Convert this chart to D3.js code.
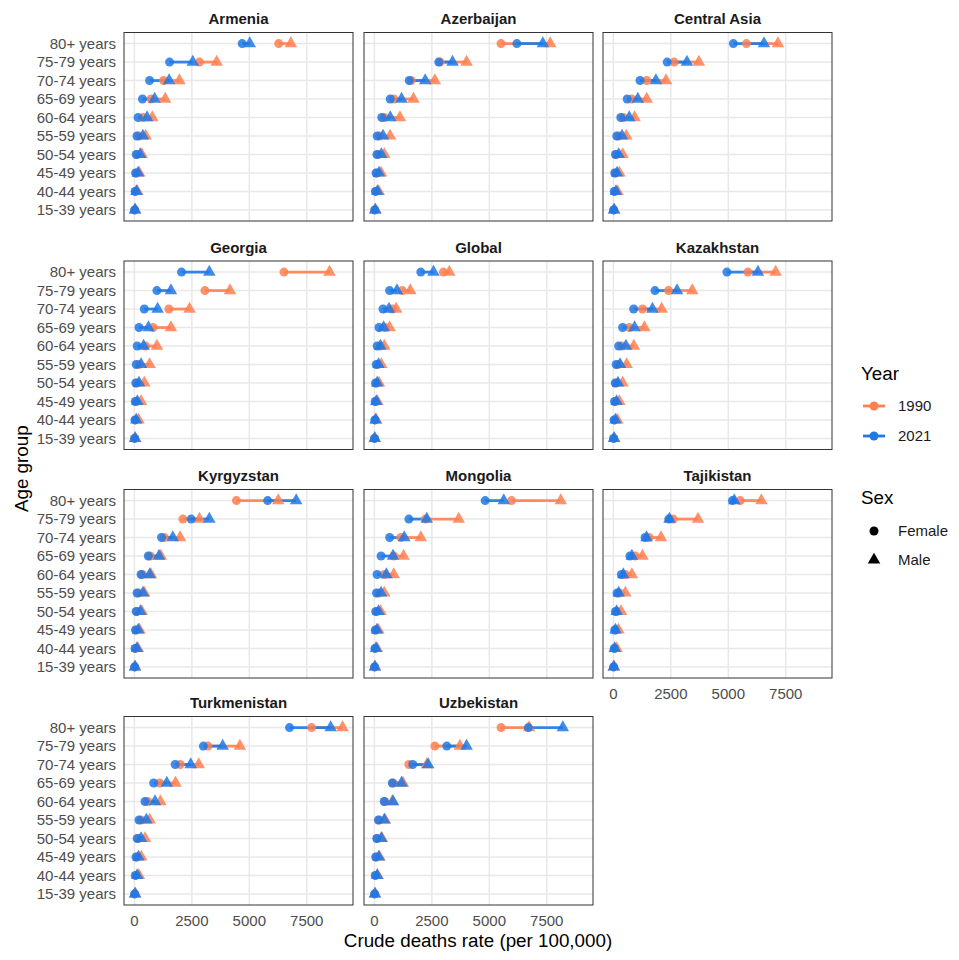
<!DOCTYPE html>
<html>
<head>
<meta charset="utf-8">
<script src="https://cdn.jsdelivr.net/npm/d3@7"></script>
<style>
  body { margin: 0; background: #fff; }
  text { font-family: "Liberation Sans", Arial, sans-serif; }
</style>
</head>
<body>
<svg id="chart" width="959" height="960"></svg>
<script>
// facets, in panel order
var countries = ["Armenia", "Azerbaijan", "Central Asia", "Georgia", "Global", "Kazakhstan",
  "Kyrgyzstan", "Mongolia", "Tajikistan", "Turkmenistan", "Uzbekistan"];
// age groups, top to bottom
var ageGroups = ["80+ years", "75-79 years", "70-74 years", "65-69 years", "60-64 years",
  "55-59 years", "50-54 years", "45-49 years", "40-44 years", "15-39 years"];
var xTicks = [0, 2500, 5000, 7500];
var years = ["1990", "2021"];
var sexes = ["Female", "Male"];

// crude death rate per 100,000; one row per country, values in ageGroups order
var female1990 = [
  [6280, 2830, 1270, 720, 375, 200, 130, 90, 50, 15],
  [5510, 2860, 1600, 840, 430, 230, 170, 110, 70, 20],
  [5790, 2640, 1450, 790, 430, 230, 130, 90, 60, 15],
  [6510, 3070, 1500, 810, 480, 190, 110, 80, 50, 15],
  [3000, 1210, 780, 460, 260, 150, 90, 60, 35, 8],
  [5850, 2400, 1270, 690, 375, 200, 130, 90, 60, 15],
  [4440, 2110, 1300, 690, 345, 175, 110, 70, 45, 15],
  [5970, 2220, 1150, 840, 430, 190, 110, 70, 45, 12],
  [5520, 2600, 1550, 950, 520, 260, 160, 110, 70, 15],
  [7710, 3200, 1990, 1100, 580, 290, 170, 110, 70, 20],
  [5510, 2630, 1500, 810, 440, 200, 130, 80, 50, 12]
];
var male1990 = [
  [6810, 3580, 1960, 1340, 780, 490, 320, 210, 130, 40],
  [7650, 4010, 2630, 1700, 1110, 680, 430, 290, 190, 50],
  [7160, 3720, 2290, 1450, 920, 560, 400, 260, 180, 40],
  [8490, 4160, 2400, 1590, 980, 660, 430, 290, 180, 40],
  [3260, 1560, 950, 660, 430, 300, 200, 130, 80, 18],
  [7060, 3430, 2100, 1350, 890, 575, 400, 260, 170, 40],
  [6260, 2830, 1990, 1150, 720, 430, 320, 220, 150, 35],
  [8110, 3670, 2020, 1270, 840, 430, 270, 170, 110, 30],
  [6440, 3680, 2070, 1265, 805, 520, 330, 220, 140, 30],
  [9060, 4590, 2800, 1790, 1130, 665, 460, 300, 200, 40],
  [6730, 3720, 2280, 1240, 780, 460, 330, 220, 140, 28]
];
var female2021 = [
  [4690, 1530, 660, 350, 160, 110, 80, 50, 30, 10],
  [6200, 2800, 1515, 690, 320, 120, 110, 70, 45, 15],
  [5220, 2340, 1160, 600, 320, 145, 90, 60, 40, 10],
  [2050, 980, 430, 200, 120, 80, 60, 40, 25, 10],
  [2020, 660, 375, 200, 120, 80, 50, 35, 20, 5],
  [4940, 1810, 880, 400, 230, 120, 80, 50, 30, 10],
  [5800, 2470, 1180, 605, 290, 115, 80, 50, 30, 10],
  [4820, 1500, 665, 290, 115, 90, 60, 40, 25, 8],
  [5180, 2410, 1380, 720, 345, 160, 90, 60, 35, 10],
  [6750, 3000, 1775, 840, 460, 200, 120, 70, 40, 10],
  [6700, 3150, 1670, 780, 430, 175, 100, 60, 40, 10]
];
var male2021 = [
  [5020, 2540, 1510, 880, 550, 370, 250, 160, 90, 25],
  [7330, 3400, 2210, 1180, 690, 375, 300, 200, 130, 35],
  [6550, 3200, 1850, 1060, 690, 375, 230, 160, 110, 25],
  [3260, 1590, 1010, 610, 400, 290, 200, 130, 80, 25],
  [2570, 980, 635, 400, 260, 180, 120, 80, 50, 12],
  [6290, 2770, 1700, 920, 545, 290, 200, 140, 90, 25],
  [7040, 3260, 1670, 1070, 665, 375, 260, 170, 110, 25],
  [5630, 2280, 1300, 810, 520, 290, 180, 110, 70, 20],
  [5260, 2440, 1440, 805, 430, 230, 140, 90, 55, 15],
  [8540, 3840, 2450, 1410, 895, 520, 290, 180, 120, 25],
  [8200, 4010, 2340, 1180, 810, 430, 300, 190, 120, 22]
];

var yearColor = d3.scaleOrdinal().domain(years).range(["#FF7F50", "#1E78E6"]);
var series = { "1990": [female1990, male1990], "2021": [female2021, male2021] };

// layout
var colX = [124, 364, 603], panelW = 229;
var rowY = [32.5, 261, 489.5, 716.5], panelH = 188.5;
var nCol = 3;
var dotR = 4.5;

var svg = d3.select("#chart");

var allVals = [].concat(female1990.flat(), male1990.flat(), female2021.flat(), male2021.flat());
var xMax = d3.max(allVals);
var x = d3.scaleLinear()
  .domain([-0.05 * xMax, 1.05 * xMax])
  .range([0, panelW]);
var y = d3.scalePoint()
  .domain(ageGroups)
  .range([0, panelH])
  .padding(0.6);

var tri = d3.symbol().type(d3.symbolTriangle).size(68);

countries.forEach(function(country, ci) {
  var col = ci % nCol, row = Math.floor(ci / nCol);
  var g = svg.append("g").attr("transform", "translate(" + colX[col] + "," + rowY[row] + ")");

  // grid
  g.selectAll("line.gx").data(xTicks).enter().append("line")
    .attr("x1", function(d) { return x(d); }).attr("x2", function(d) { return x(d); })
    .attr("y1", 0).attr("y2", panelH)
    .attr("stroke", "#E8E8E8").attr("stroke-width", 1.5);
  g.selectAll("line.gy").data(ageGroups).enter().append("line")
    .attr("x1", 0).attr("x2", panelW)
    .attr("y1", function(d) { return y(d); }).attr("y2", function(d) { return y(d); })
    .attr("stroke", "#E8E8E8").attr("stroke-width", 1.5);

  // one segment per age group and year, female to male
  years.forEach(function(yr) {
    var f = series[yr][0][ci], m = series[yr][1][ci];
    g.selectAll("line.seg" + yr).data(ageGroups).enter().append("line")
      .attr("x1", function(d, i) { return x(f[i]); })
      .attr("x2", function(d, i) { return x(m[i]); })
      .attr("y1", function(d) { return y(d); })
      .attr("y2", function(d) { return y(d); })
      .attr("stroke", yearColor(yr)).attr("stroke-width", 2.8)
      .attr("stroke-opacity", 0.9);
  });

  years.forEach(function(yr) {
    var f = series[yr][0][ci], m = series[yr][1][ci];
    g.selectAll("circle.p" + yr).data(ageGroups).enter().append("circle")
      .attr("cx", function(d, i) { return x(f[i]); })
      .attr("cy", function(d) { return y(d); })
      .attr("r", dotR)
      .attr("fill", yearColor(yr)).attr("fill-opacity", 0.85);
    g.selectAll("path.p" + yr).data(ageGroups).enter().append("path")
      .attr("d", tri)
      .attr("transform", function(d, i) { return "translate(" + x(m[i]) + "," + y(d) + ")"; })
      .attr("fill", yearColor(yr)).attr("fill-opacity", 0.85);
  });

  // border
  g.append("rect")
    .attr("width", panelW).attr("height", panelH)
    .attr("fill", "none").attr("stroke", "#333333").attr("stroke-width", 1);

  // strip title
  g.append("text")
    .attr("x", panelW / 2).attr("y", -8.5)
    .attr("text-anchor", "middle")
    .style("font-size", "15px").style("font-weight", "bold")
    .attr("fill", "#1a1a1a")
    .text(country);

  if (col === 0) {
    g.selectAll("text.yl").data(ageGroups).enter().append("text")
      .attr("x", -8).attr("y", function(d) { return y(d); })
      .attr("dy", "0.36em")
      .attr("text-anchor", "end")
      .style("font-size", "15px").attr("fill", "#4D4D4D")
      .text(function(d) { return d; });
  }
  if (ci + nCol >= countries.length) {
    g.selectAll("text.xl").data(xTicks).enter().append("text")
      .attr("x", function(d) { return x(d); }).attr("y", panelH + 20.5)
      .attr("text-anchor", "middle")
      .style("font-size", "15px").attr("fill", "#4D4D4D")
      .text(function(d) { return d; });
  }
});

// axis titles
svg.append("text")
  .attr("x", (colX[0] + colX[2] + panelW) / 2).attr("y", 947)
  .attr("text-anchor", "middle")
  .style("font-size", "18.8px")
  .text("Crude deaths rate (per 100,000)");
svg.append("text")
  .attr("transform", "translate(28," + (rowY[0] + rowY[3] + panelH) / 2 + ") rotate(-90)")
  .attr("text-anchor", "middle")
  .style("font-size", "18.8px")
  .text("Age group");

// legends
var lg = svg.append("g").attr("transform", "translate(861,0)");
lg.append("text").attr("x", 0).attr("y", 380).style("font-size", "18.8px").text("Year");
var yk = lg.selectAll("g.yk").data(years).enter().append("g")
  .attr("transform", function(d, i) { return "translate(0," + (406 + i * 30) + ")"; });
yk.append("line").attr("x1", 2).attr("x2", 24).attr("stroke-width", 2.8)
  .attr("stroke", function(d) { return yearColor(d); });
yk.append("circle").attr("cx", 13).attr("r", dotR)
  .attr("fill", function(d) { return yearColor(d); });
yk.append("text").attr("x", 37).attr("dy", "0.36em").style("font-size", "15px")
  .attr("fill", "#1a1a1a").text(function(d) { return d; });

lg.append("text").attr("x", 0).attr("y", 504).style("font-size", "18.8px").text("Sex");
var sk = lg.selectAll("g.sk").data(sexes).enter().append("g")
  .attr("transform", function(d, i) { return "translate(13," + (531 + i * 29) + ")"; });
sk.append("path").attr("d", function(d) {
  return d === "Female" ? d3.symbol().type(d3.symbolCircle).size(Math.PI * dotR * dotR)() : tri();
}).attr("fill", "#000");
sk.append("text").attr("x", 24).attr("dy", "0.36em").style("font-size", "15px")
  .attr("fill", "#1a1a1a").text(function(d) { return d; });
</script>
</body>
</html>
